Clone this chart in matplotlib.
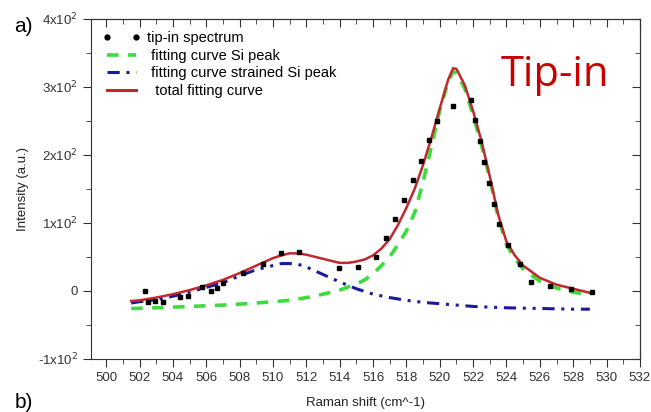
import matplotlib.pyplot as plt
from matplotlib.lines import Line2D

plt.rcParams["font.family"] = ["Liberation Sans", "DejaVu Sans"]

# measured spectrum (Raman shift in cm^-1, intensity a.u.)
spec_x = [502.33, 502.53, 502.93, 503.39, 504.43, 504.93, 505.73, 506.27, 506.67, 506.99,
          508.23, 509.39, 510.47, 511.57, 513.93, 515.07, 516.19, 516.79, 517.33, 517.87,
          518.37, 518.88, 519.36, 519.84, 520.80, 521.88, 522.14, 522.44, 522.68, 522.93,
          523.28, 523.54, 524.08, 524.80, 525.44, 526.60, 527.88, 529.14]
spec_y = [0, -16, -15, -16, -9, -7, 5, 0, 4, 12,
          26, 39, 56, 57, 34, 35, 49, 77, 105, 133,
          163, 191, 221, 249, 271, 281, 251, 220, 189, 159,
          128, 98, 67, 40, 13, 7, 3, -1.5]

# fitted Si peak
si_x = [501.5, 503, 505, 507, 509, 510, 511, 512, 513, 514, 515, 515.5, 516, 516.5, 517,
        517.5, 518, 518.5, 519, 519.5, 520, 520.5, 520.8, 521, 521.5, 522, 522.5, 523,
        523.5, 524, 524.5, 525, 526, 527, 528, 529]
si_y = [-26, -25, -23, -21, -18, -16, -14, -10, -5, 1, 10, 16, 25, 37, 50,
        68, 88, 115, 160, 212, 265, 307, 322, 320, 297, 258, 214, 165,
        108, 68, 47, 32, 14, 4, -2, -6]

# fitted strained Si peak
ssi_x = [501.5, 502, 503, 504, 505, 506, 507, 508, 509, 510, 510.5, 511, 511.5, 512, 513,
         514, 515, 516, 517, 518, 519, 520, 521, 522, 524, 526, 528, 529]
ssi_y = [-18, -16, -13, -8, -2, 5, 12, 22, 31, 37, 40, 40, 39, 35, 24,
         13, 3, -5, -10, -14, -17, -19, -21, -23, -25, -26, -27, -27]

# total fit
tot_x = [501.5, 502, 503, 504, 505, 506, 507, 508, 509, 510, 510.5, 511, 511.5, 512, 513,
         514, 514.5, 515, 515.5, 516, 516.5, 517, 517.5, 518, 518.5, 519, 519.5, 520,
         520.5, 520.8, 521, 521.5, 522, 522.5, 523, 523.5, 524, 524.5, 525, 526, 527,
         528, 529, 529.2]
tot_y = [-15, -14, -10, -5, 1, 8, 16, 26, 37, 48, 52, 55, 55, 53, 47,
         41, 41, 43, 46, 52, 62, 76, 97, 122, 150, 185, 225, 268,
         310, 327, 326, 302, 264, 220, 168, 112, 72, 52, 37, 19, 9,
         3, -3, -4]

x_ticks = list(range(500, 533, 2))
y_ticks = [-100, 0, 100, 200, 300, 400]
y_labels = [r"-1x10$^2$", "0", r"1x10$^2$", r"2x10$^2$", r"3x10$^2$", r"4x10$^2$"]

fig = plt.figure(figsize=(6.51, 4.12), dpi=100)
ax = fig.add_axes([0.140, 0.129, 0.843, 0.826])

ax.plot(si_x, si_y, color="#3ddc3d", lw=2.6, dashes=(3.2, 2.6), zorder=2)
ax.plot(ssi_x, ssi_y, color="#1a1a9a", lw=2.2, dashes=(4, 2.2, 1, 2.2, 1, 2.2), zorder=3)
ax.plot(tot_x, tot_y, color="#c0282d", lw=1.8, zorder=4)
ax.plot(spec_x, spec_y, "s", color="black", ms=3.2, zorder=5)

ax.set_xlim(499.1, 532)
ax.set_ylim(-100, 400)
ax.set_xticks(x_ticks)
ax.set_xticks(range(500, 533), minor=True)
ax.set_yticks(y_ticks)
ax.set_yticklabels(y_labels)
ax.set_yticks(range(-100, 401, 50), minor=True)
ax.tick_params(which="both", direction="out", colors="#333333", labelsize=9.5)
ax.tick_params(which="major", length=6)
ax.tick_params(which="minor", length=3.5)
for s in ax.spines.values():
    s.set_color("#333333")

# top and right axes with inward ticks
top = ax.secondary_xaxis("top")
top.set_xticks(x_ticks)
top.set_xticks(range(500, 533), minor=True)
top.tick_params(which="both", direction="in", labeltop=False, colors="#333333")
top.tick_params(which="major", length=6)
top.tick_params(which="minor", length=3.5)
right = ax.secondary_yaxis("right")
right.set_yticks(y_ticks)
right.set_yticks(range(-100, 401, 50), minor=True)
right.tick_params(which="both", direction="in", labelright=False, colors="#333333")
right.tick_params(which="major", length=6)
right.tick_params(which="minor", length=3.5)

ax.set_xlabel("Raman shift (cm^-1)", fontsize=9.5, color="#222222", labelpad=9)
ax.set_ylabel("Intensity (a.u.)", fontsize=9.5, color="#222222", labelpad=6)

handles = [
    Line2D([], [], marker="o", ls="none", color="black", ms=3.5),
    Line2D([], [], color="#3ddc3d", lw=2.6, dashes=(3.2, 2.6)),
    Line2D([], [], color="#1a1a9a", lw=2.2, dashes=(4, 2.2, 1, 2.2, 1, 2.2)),
    Line2D([], [], color="#c0282d", lw=2.2),
]
labels = ["tip-in spectrum", " fitting curve Si peak",
          " fitting curve strained Si peak", "  total fitting curve"]
ax.legend(handles, labels, loc="upper left", bbox_to_anchor=(0.0, 0.998),
          frameon=False, fontsize=10.5, numpoints=2, handlelength=2.6,
          handletextpad=0.4, labelspacing=0.26, borderaxespad=0.4)

ax.text(0.845, 0.835, "Tip-in", transform=ax.transAxes, color="#c80000",
        fontsize=30, ha="center", va="center", family="Open Sans")

fig.text(0.022, 0.935, "a)", fontsize=15, va="center")
fig.text(0.022, 0.0, "b)", fontsize=15, va="bottom")

fig.savefig("out.png", dpi=100)
